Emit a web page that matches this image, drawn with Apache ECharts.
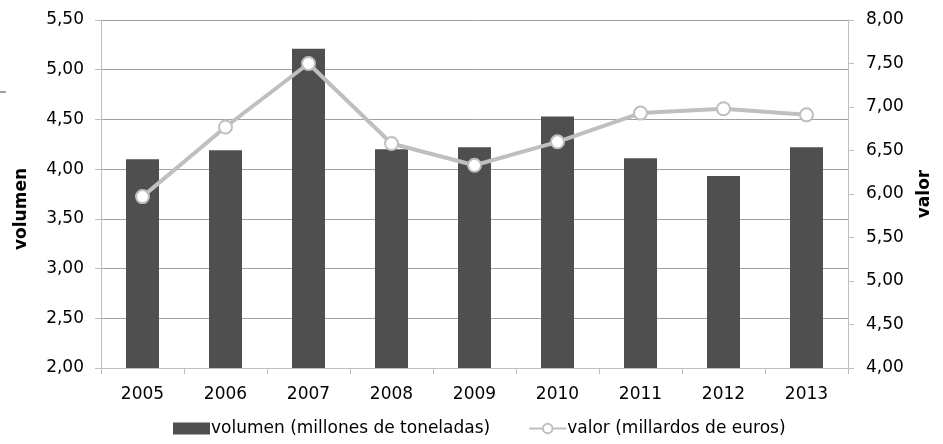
<!DOCTYPE html>
<html><head><meta charset="utf-8">
<script src="https://cdn.jsdelivr.net/npm/echarts@6/dist/echarts.min.js"></script>
<style>html,body{margin:0;padding:0;background:#fff}#c{width:943px;height:444px}</style>
</head><body><div id="c"></div>
<script>
var years = ['2005','2006','2007','2008','2009','2010','2011','2012','2013'];
var volumen = [4.10, 4.19, 5.21, 4.20, 4.22, 4.53, 4.11, 3.93, 4.22];
var valor = [5.97, 6.77, 7.50, 6.58, 6.33, 6.60, 6.93, 6.98, 6.91];
var leftTicks = {min: 2, max: 5.5, interval: 0.5};
var rightTicks = {min: 4, max: 8, interval: 0.5};
var volName = 'volumen (millones de toneladas)';
var valName = 'valor (millardos de euros)';

var FONT = 'DejaVu Sans';
var FS = 17;
var fmt = function(v){ return v.toFixed(2).replace('.', ','); };
var chart = echarts.init(document.getElementById('c'), null, {renderer:'canvas'});
chart.setOption({
  animation: false,
  backgroundColor: '#fff',
  textStyle: {fontFamily: FONT},
  grid: {left: 101, right: 95, top: 20, bottom: 76},
  graphic: [{type:'rect', shape:{x:0, y:91, width:6, height:2}, style:{fill:'#a0a0a0'}}],
  legend: {
    bottom: 2, left: 168, itemGap: 38, itemWidth: 37, itemHeight: 12,
    textStyle: {fontFamily: FONT, fontSize: FS, color: '#000', padding:[0,0,0,-4]},
    data: [
      {name: volName, icon: 'rect'},
      {name: valName}
    ]
  },
  xAxis: {
    type: 'category', data: years,
    axisLine: {lineStyle: {color: '#bfbfbf', width: 1}},
    axisTick: {show: true, length: 6, lineStyle: {color: '#bfbfbf'}},
    axisLabel: {fontFamily: FONT, fontSize: FS, color: '#000', margin: 18}
  },
  yAxis: [{
    type: 'value', min: leftTicks.min, max: leftTicks.max, interval: leftTicks.interval,
    name: 'volumen', nameLocation: 'middle', nameGap: 71, nameRotate: 90,
    nameTextStyle: {fontFamily: FONT, fontSize: FS, fontWeight: 'bold', color: '#000', padding: [0, 30, 0, 0]},
    axisLine: {show: true, lineStyle: {color: '#bfbfbf'}},
    axisTick: {show: true, length: 6, lineStyle: {color: '#bfbfbf'}},
    axisLabel: {fontFamily: FONT, fontSize: FS, color: '#000', margin: 17, formatter: fmt},
    splitLine: {lineStyle: {color: '#a0a0a0', width: 1}}
  }, {
    type: 'value', min: rightTicks.min, max: rightTicks.max, interval: rightTicks.interval,
    name: 'valor', nameLocation: 'middle', nameGap: 68, nameRotate: 90,
    nameTextStyle: {fontFamily: FONT, fontSize: FS, fontWeight: 'bold', color: '#000'},
    axisLine: {show: true, lineStyle: {color: '#bfbfbf'}},
    axisTick: {show: true, length: 6, lineStyle: {color: '#bfbfbf'}},
    axisLabel: {fontFamily: FONT, fontSize: FS, color: '#000', margin: 18, formatter: fmt},
    splitLine: {show: false}
  }],
  series: [{
    name: volName, type: 'bar', yAxisIndex: 0, data: volumen,
    barWidth: 33, itemStyle: {color: '#4f4f4f'}
  }, {
    name: valName, type: 'line', yAxisIndex: 1, data: valor,
    symbol: 'circle', symbolSize: 13,
    lineStyle: {color: '#bfbfbf', width: 4},
    itemStyle: {color: '#ffffff', borderColor: '#bfbfbf', borderWidth: 2}
  }]
});
</script></body></html>
